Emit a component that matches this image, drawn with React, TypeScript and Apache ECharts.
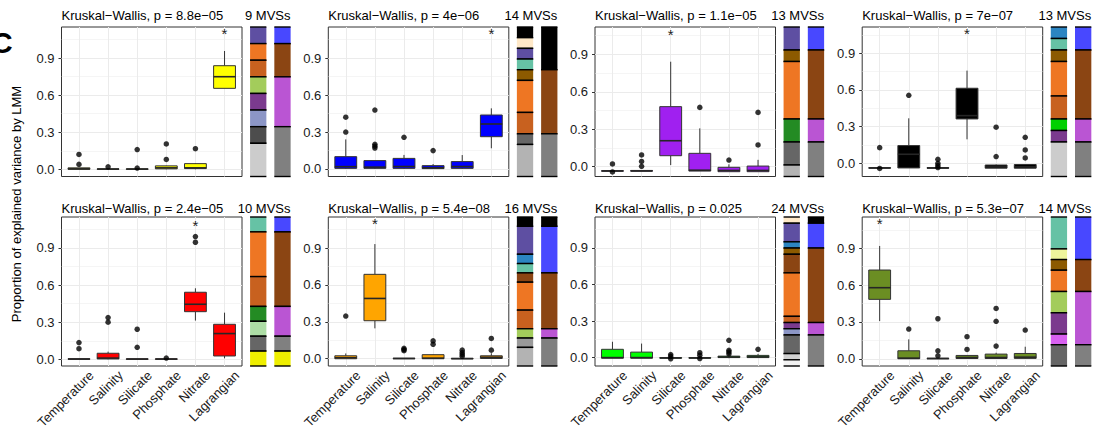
import React, { useEffect, useRef } from 'react';
import * as echarts from 'echarts';

const categories = ['Temperature', 'Salinity', 'Silicate', 'Phosphate', 'Nitrate', 'Lagrangian'];
const yTickValues = [0, 0.3, 0.6, 0.9];
const yMinorValues = [0.15, 0.45, 0.75, 1.05];

const titles = [
  'Kruskal−Wallis, p = 8.8e−05',
  'Kruskal−Wallis, p = 4e−06',
  'Kruskal−Wallis, p = 1.1e−05',
  'Kruskal−Wallis, p = 7e−07',
  'Kruskal−Wallis, p = 2.4e−05',
  'Kruskal−Wallis, p = 5.4e−08',
  'Kruskal−Wallis, p = 0.025',
  'Kruskal−Wallis, p = 5.3e−07',
];
const mvsLabels = ['9 MVSs', '14 MVSs', '13 MVSs', '13 MVSs', '10 MVSs', '16 MVSs', '24 MVSs', '14 MVSs'];
const boxFills = ['#FFFF00', '#0000FF', '#A020F0', '#000000', '#FF0000', '#FFA500', '#00FF00', '#6B8E23'];

// [low whisker, Q1, median, Q3, high whisker] per category
const stats1 = [
  [0, 0, 0.004, 0.012, 0.012],
  [0, 0, 0.002, 0.004, 0.004],
  [0, 0, 0.002, 0.004, 0.004],
  [0, 0.004, 0.012, 0.028, 0.03],
  [0, 0.006, 0.012, 0.046, 0.05],
  [0.655, 0.655, 0.749, 0.838, 0.957],
];
const out1 = [[0.12, 0.04], [0.02], [0.16, 0.01], [0.205, 0.08], [0.167], []];

const stats2 = [
  [0, 0.005, 0.019, 0.1, 0.24],
  [0, 0.005, 0.015, 0.068, 0.068],
  [0, 0.005, 0.02, 0.086, 0.114],
  [0, 0.003, 0.01, 0.027, 0.04],
  [0, 0.005, 0.02, 0.06, 0.113],
  [0.168, 0.262, 0.365, 0.438, 0.492],
];
const out2 = [[0.3, 0.42], [0.478, 0.2, 0.185, 0.17], [0.257], [0.149], [], []];

const stats3 = [
  [-0.036, -0.036, -0.034, -0.032, -0.032],
  [-0.036, -0.036, -0.034, -0.03, -0.03],
  [0.013, 0.088, 0.208, 0.481, 0.841],
  [-0.035, -0.035, -0.028, 0.107, 0.307],
  [-0.04, -0.04, -0.03, -0.005, 0.019],
  [-0.04, -0.04, -0.03, 0.005, 0.055],
];
const out3 = [[0.022, -0.042], [0.094, 0.042, 0.003], [], [0.475], [0.053], [0.174, 0.435]];

const stats4 = [
  [-0.04, -0.04, -0.038, -0.036, -0.036],
  [-0.038, -0.038, 0.074, 0.145, 0.368],
  [-0.04, -0.04, -0.038, -0.036, -0.036],
  [0.196, 0.363, 0.39, 0.614, 0.758],
  [-0.04, -0.04, -0.03, -0.014, -0.01],
  [-0.04, -0.04, -0.03, -0.01, -0.008],
];
const out4 = [[0.128, -0.042], [0.556], [0.033, 0.0, -0.019, -0.035], [], [0.295, 0.055], [0.213, 0.109, 0.044]];

const stats5 = [
  [0, 0, 0.002, 0.005, 0.005],
  [0, 0.003, 0.01, 0.049, 0.062],
  [0, 0, 0.002, 0.004, 0.004],
  [0, 0, 0.002, 0.004, 0.004],
  [0.313, 0.385, 0.445, 0.542, 0.574],
  [0.008, 0.027, 0.208, 0.283, 0.377],
];
const out5 = [[0.135, 0.086], [0.337, 0.3], [0.243, 0.097], [0.01], [0.992, 0.946], []];

const stats6 = [
  [0, 0, 0.008, 0.024, 0.043],
  [0.247, 0.309, 0.49, 0.686, 0.932],
  [0, 0, 0.002, 0.004, 0.004],
  [0, 0, 0.005, 0.033, 0.035],
  [0, 0, 0.001, 0.003, 0.003],
  [0, 0.002, 0.012, 0.024, 0.045],
];
const out6 = [[0.347], [], [0.085, 0.075, 0.065], [0.145, 0.117], [0.07, 0.05, 0.035, 0.02], [0.165, 0.07]];

const stats7 = [
  [-0.005, -0.005, 0, 0.068, 0.13],
  [-0.005, -0.005, 0, 0.045, 0.115],
  [-0.005, -0.005, -0.003, 0, 0],
  [-0.005, -0.005, -0.003, 0, 0],
  [-0.005, 0, 0.005, 0.012, 0.02],
  [-0.003, 0, 0.006, 0.018, 0.03],
];
const out7 = [[], [], [0.025, 0.01, -0.01], [0.04, 0.02, -0.008], [0.142, 0.06, 0.045, 0.03], [0.068]];

const stats8 = [
  [0.307, 0.484, 0.579, 0.723, 0.919],
  [0, 0, 0.005, 0.065, 0.158],
  [0, 0, 0.002, 0.004, 0.004],
  [0, 0.002, 0.01, 0.027, 0.03],
  [0, 0.002, 0.01, 0.038, 0.049],
  [0, 0.003, 0.013, 0.043, 0.098],
];
const out8 = [[], [0.242], [0.326, 0.065, 0.024], [0.18, 0.076], [0.41, 0.305, 0.103], [0.234]];

const starCategory = [5, 5, 2, 3, 4, 1, -1, 0];
const starValue = [1.1, 1.1, 1.056, 1.059, 1.079, 1.1, 0, 1.103];

// MVS composition bars, segments listed top to bottom: counts and colours
const leftCounts1 = [1, 1, 1, 1, 1, 1, 1, 2];
const leftColors1 = ['#5E4FA2', '#EE7623', '#C8611F', '#A3CC5B', '#7B3A8E', '#8C96C6', '#4D4D4D', '#CCCCCC'];
const rightCounts1 = [1, 2, 3, 3];
const rightColors1 = ['#4848FF', '#8B4513', '#BA55D3', '#808080'];

const leftCounts2 = [1, 1, 1, 1, 1, 3, 2, 1, 3];
const leftColors2 = ['#000000', '#FEE8C8', '#5E4FA2', '#66C2A5', '#8C5A00', '#EE7623', '#C8611F', '#666666', '#B3B3B3'];
const rightCounts2 = [4, 6, 4];
const rightColors2 = ['#000000', '#8B4513', '#808080'];

const leftCounts3 = [2, 1, 5, 2, 2, 1];
const leftColors3 = ['#5E4FA2', '#8C5A00', '#EE7623', '#238B23', '#666666', '#B3B3B3'];
const rightCounts3 = [2, 6, 2, 3];
const rightColors3 = ['#4848FF', '#8B4513', '#BA55D3', '#808080'];

const leftCounts4 = [1, 1, 1, 3, 2, 1, 1, 3];
const leftColors4 = ['#2C85C2', '#66C2A5', '#8C5A00', '#EE7623', '#C8611F', '#00D000', '#7B3A8E', '#CCCCCC'];
const rightCounts4 = [2, 6, 2, 3];
const rightColors4 = ['#4848FF', '#8B4513', '#BA55D3', '#808080'];

const leftCounts5 = [1, 3, 2, 1, 1, 1, 1];
const leftColors5 = ['#66C2A5', '#EE7623', '#C8611F', '#238B23', '#ADDDA5', '#666666', '#EEEE00'];
const rightCounts5 = [1, 5, 2, 1, 1];
const rightColors5 = ['#4848FF', '#8B4513', '#BA55D3', '#808080', '#EEEE00'];

const leftCounts6 = [1, 3, 1, 1, 1, 3, 2, 1, 1, 2];
const leftColors6 = ['#000000', '#5E4FA2', '#2C85C2', '#66C2A5', '#8B4513', '#EE7623', '#C8611F', '#A3CC5B', '#999999', '#B3B3B3'];
const rightCounts6 = [1, 5, 6, 1, 3];
const rightColors6 = ['#000000', '#4848FF', '#8B4513', '#BA55D3', '#808080'];

const leftCounts7 = [1, 3, 1, 1, 3, 7, 1, 1, 1, 3, 1, 1];
const leftColors7 = ['#FEE8C8', '#5E4FA2', '#2C85C2', '#8C5A00', '#8B4513', '#EE7623', '#C8611F', '#7B3A8E', '#8C96C6', '#666666', '#D0D0D0', '#F2F2F2'];
const rightCounts7 = [1, 4, 12, 2, 5];
const rightColors7 = ['#000000', '#4848FF', '#8B4513', '#BA55D3', '#808080'];

const leftCounts8 = [3, 1, 1, 2, 2, 2, 1, 2];
const leftColors8 = ['#66C2A5', '#EEF59C', '#8C5A00', '#EE7623', '#A3CC5B', '#7B3A8E', '#D860F0', '#666666'];
const rightCounts8 = [4, 3, 5, 2];
const rightColors8 = ['#4848FF', '#8B4513', '#BA55D3', '#808080'];

const allStats = [stats1, stats2, stats3, stats4, stats5, stats6, stats7, stats8];
const allOut = [out1, out2, out3, out4, out5, out6, out7, out8];
const allBars = [
  [[leftCounts1, leftColors1], [rightCounts1, rightColors1]],
  [[leftCounts2, leftColors2], [rightCounts2, rightColors2]],
  [[leftCounts3, leftColors3], [rightCounts3, rightColors3]],
  [[leftCounts4, leftColors4], [rightCounts4, rightColors4]],
  [[leftCounts5, leftColors5], [rightCounts5, rightColors5]],
  [[leftCounts6, leftColors6], [rightCounts6, rightColors6]],
  [[leftCounts7, leftColors7], [rightCounts7, rightColors7]],
  [[leftCounts8, leftColors8], [rightCounts8, rightColors8]],
];

// layout
const FONT = 'Liberation Sans, Arial, Helvetica, sans-serif';
const colLefts = [61.5, 328.3, 595, 862.2];
const plotW = 180.5;
const rowTop = [27, 217];
const rowBottom = [176.5, 366];
const titleY = [15.5, 208];
const yRanges = [
  [-0.058, 1.151], [-0.061, 1.152], [-0.0785, 1.119], [-0.108, 1.115],
  [-0.054, 1.15], [-0.059, 1.152], [-0.069, 1.154], [-0.059, 1.155],
];
const labelShift = 0.27; // rotated labels sit right of their ticks, as in ggplot

function buildOption() {
  const grid: any[] = [];
  const xAxis: any[] = [];
  const yAxis: any[] = [];
  const series: any[] = [];
  const graphic: any[] = [];
  const catPos = categories.map((_, i) => i + 1);

  for (let p = 0; p < 8; p++) {
    const row = Math.floor(p / 4);
    const col = p % 4;
    const L = colLefts[col];
    const T = rowTop[row];
    const B = rowBottom[row];
    const gi = grid.length;
    grid.push({ left: L, top: T, width: plotW, height: B - T, show: true, borderColor: '#333', borderWidth: 1, backgroundColor: '#fff', containLabel: false, outerBoundsMode: 'none' });
    const xi = xAxis.length;
    xAxis.push({
      gridIndex: gi, type: 'value', min: 0.4, max: 6.6, position: 'bottom',
      axisLine: { show: false }, splitLine: { show: false },
      axisTick: { show: true, customValues: catPos, length: 3, lineStyle: { color: '#333', width: 1 } },
      axisLabel: { show: false },
    });
    if (row === 1) {
      xAxis.push({
        gridIndex: gi, type: 'value', min: 0.4 - labelShift, max: 6.6 - labelShift, position: 'bottom', offset: 0,
        axisLine: { show: false }, splitLine: { show: false }, axisTick: { show: false },
        axisLabel: { show: true, interval: 0, showMinLabel: true, showMaxLabel: true, hideOverlap: false, customValues: catPos, formatter: (v: number) => categories[Math.round(v) - 1], rotate: 45, fontSize: 13, color: '#1a1a1a', margin: 2.5, verticalAlign: 'top', align: 'right', fontFamily: FONT },
      });
    }
    const yi = yAxis.length;
    yAxis.push({
      gridIndex: gi, type: 'value', min: yRanges[p][0], max: yRanges[p][1],
      axisLine: { show: false }, splitLine: { show: false },
      axisTick: { show: true, customValues: yTickValues, length: 3, lineStyle: { color: '#333', width: 1 } },
      axisLabel: { show: true, showMinLabel: true, showMaxLabel: true, customValues: yTickValues, formatter: (v: number) => v.toFixed(1), fontSize: 13, color: '#1a1a1a', margin: 7, fontFamily: FONT },
    });

    // grid lines
    series.push({
      type: 'line', xAxisIndex: xi, yAxisIndex: yi, data: [], silent: true, z: 1,
      markLine: {
        silent: true, symbol: 'none', animation: false, z: 1, label: { show: false },
        data: [
          ...yMinorValues.filter(v => v < yRanges[p][1]).map(v => ({ yAxis: v, lineStyle: { color: '#EBEBEB', width: 0.5, type: 'solid' } })),
          ...yTickValues.map(v => ({ yAxis: v, lineStyle: { color: '#EBEBEB', width: 1, type: 'solid' } })),
          ...catPos.map(v => ({ xAxis: v, lineStyle: { color: '#EBEBEB', width: 1, type: 'solid' } })),
        ],
      },
    });

    // boxes
    const fill = boxFills[p];
    series.push({
      type: 'custom', xAxisIndex: xi, yAxisIndex: yi, z: 3,
      encode: { x: 0, y: [1, 2, 3, 4, 5] },
      data: allStats[p].map((s, i) => [i + 1, ...s]),
      renderItem: (params: any, api: any) => {
        const x = api.value(0);
        const lo = api.coord([x, api.value(1)]);
        const q1 = api.coord([x, api.value(2)]);
        const md = api.coord([x, api.value(3)]);
        const q3 = api.coord([x, api.value(4)]);
        const hi = api.coord([x, api.value(5)]);
        const half = api.size([0.75, 0])[0] / 2;
        const cx = q1[0];
        const h = Math.max(q1[1] - q3[1], 0.5);
        return {
          type: 'group',
          children: [
            { type: 'line', shape: { x1: cx, y1: q3[1], x2: cx, y2: hi[1] }, style: { stroke: '#333', lineWidth: 1 } },
            { type: 'line', shape: { x1: cx, y1: q1[1], x2: cx, y2: lo[1] }, style: { stroke: '#333', lineWidth: 1 } },
            { type: 'rect', shape: { x: cx - half, y: q3[1], width: 2 * half, height: h }, style: { fill, stroke: '#333', lineWidth: 1 } },
            { type: 'line', shape: { x1: cx - half, y1: md[1], x2: cx + half, y2: md[1] }, style: { stroke: '#262626', lineWidth: 1.6 } },
          ],
        };
      },
    });

    // outliers
    const pts: number[][] = [];
    allOut[p].forEach((arr, i) => arr.forEach(v => pts.push([i + 1, v])));
    series.push({
      type: 'scatter', xAxisIndex: xi, yAxisIndex: yi, z: 4, symbol: 'circle', symbolSize: 5.5,
      itemStyle: { color: '#000' }, data: pts, silent: true,
    });

    // significance star
    if (starCategory[p] >= 0) {
      series.push({
        type: 'custom', xAxisIndex: xi, yAxisIndex: yi, z: 5,
        data: [[starCategory[p] + 1, starValue[p]]],
        renderItem: (params: any, api: any) => {
          const c = api.coord([api.value(0), api.value(1)]);
          return { type: 'text', x: c[0], y: c[1], style: { text: '*', fontSize: 15, fontFamily: FONT, fill: '#222', align: 'center', verticalAlign: 'middle' } };
        },
      });
    }

    // composition bars
    const bgi = grid.length;
    const bx = L + plotW + 4.1;
    grid.push({ left: bx, top: T, width: 48.5, height: B - T, show: false, outerBoundsMode: 'none' });
    const bars = allBars[p];
    const total = bars[0][0].reduce((a: number, b: number) => a + b, 0);
    const bxi = xAxis.length;
    xAxis.push({ gridIndex: bgi, type: 'value', min: 0, max: 2, show: false });
    const byi = yAxis.length;
    yAxis.push({ gridIndex: bgi, type: 'value', min: 0, max: total, inverse: true, show: false });
    const segs: any[] = [];
    const segColors: string[] = [];
    bars.forEach((bar: any, bi: number) => {
      let acc = 0;
      (bar[0] as number[]).forEach((cnt, k) => {
        segs.push([bi + 0.5, acc, acc + cnt]);
        segColors.push(bar[1][k]);
        acc += cnt;
      });
    });
    series.push({
      type: 'custom', xAxisIndex: bxi, yAxisIndex: byi, z: 3,
      encode: { x: 0, y: [1, 2] },
      data: segs,
      renderItem: (params: any, api: any) => {
        const x = api.value(0);
        const a = api.coord([x, api.value(1)]);
        const b = api.coord([x, api.value(2)]);
        const w = 16.3;
        const y0 = Math.min(a[1], b[1]);
        const y1 = Math.max(a[1], b[1]);
        const color = segColors[params.dataIndex];
        return {
          type: 'group',
          children: [
            { type: 'rect', shape: { x: a[0] - w / 2, y: y0, width: w, height: y1 - y0 }, style: { fill: color } },
            { type: 'line', shape: { x1: a[0] - w / 2, y1: y0, x2: a[0] + w / 2, y2: y0 }, style: { stroke: '#000', lineWidth: 1.4 } },
            { type: 'line', shape: { x1: a[0] - w / 2, y1: y1, x2: a[0] + w / 2, y2: y1 }, style: { stroke: '#000', lineWidth: 1.4 } },
          ],
        };
      },
    });

    // titles
    graphic.push({ type: 'text', x: L, y: titleY[row], style: { text: titles[p], fontSize: 13, fontFamily: FONT, fill: '#000', align: 'left', verticalAlign: 'middle' } });
    graphic.push({ type: 'text', x: L + plotW + 48.5, y: titleY[row], style: { text: mvsLabels[p], fontSize: 13, fontFamily: FONT, fill: '#000', align: 'right', verticalAlign: 'middle' } });
  }

  graphic.push({ type: 'text', x: 16.5, y: 204, rotation: Math.PI / 2, style: { text: 'Proportion of explained variance by LMM', fontSize: 13, fontFamily: FONT, fill: '#000', align: 'center', verticalAlign: 'middle' } });
  graphic.push({ type: 'text', x: -9, y: 42, style: { text: 'C', fontSize: 30, fontWeight: 'bold', fontFamily: FONT, fill: '#000', align: 'left', verticalAlign: 'middle' } });

  return {
    animation: false,
    backgroundColor: '#fff',
    textStyle: { fontFamily: FONT },
    grid, xAxis, yAxis, series, graphic,
  };
}

export default function App() {
  const ref = useRef<HTMLDivElement>(null);
  useEffect(() => {
    if (!ref.current) return;
    const chart = echarts.init(ref.current, undefined, { renderer: 'svg' });
    chart.setOption(buildOption() as any);
    return () => chart.dispose();
  }, []);
  return <div ref={ref} style={{ position: 'fixed', left: 0, top: 0, width: 1095, height: 430 }} />;
}
